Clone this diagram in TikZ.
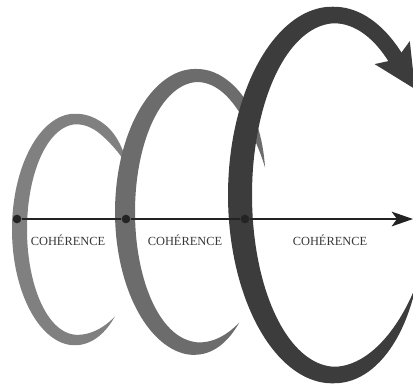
\documentclass[tikz,border=0pt]{standalone}
\usepackage{fontspec}
\setmainfont{Liberation Serif}
\usetikzlibrary{arrows.meta}
\definecolor{turnone}{RGB}{128,128,128}
\definecolor{turntwo}{RGB}{108,108,108}
\definecolor{turnthree}{RGB}{60,60,60}
\definecolor{axisgray}{RGB}{35,35,35}
\definecolor{textgray}{RGB}{55,55,55}

\begin{document}
\begin{tikzpicture}[x=0.75pt, y=-0.75pt,
  declare function={
    rx(\t)=(cos(\t)<0 ? \trl : \trr);
    wd(\t)=(\twt+(\twl-\twt)*max(0,-cos(\t)))*sin(90*min(1,(\t-\tta)/\tka))*sin(90*min(1,(\ttb-\t)/\tkb));
  },
  dot/.style={circle, fill=axisgray, inner sep=0pt, minimum size=6.5pt},
  cohtext/.style={font=\fontsize{9.3}{10}\selectfont, text=textgray},
  axisline/.style={draw=axisgray, line width=1.4pt}]
  \useasboundingbox (0,0) rectangle (413,387);
  \clip (0,0) rectangle (413,387);
  % first turn
  \def\tcx{76}\def\tcy{229.5}\def\trl{56.5}\def\trr{63}\def\try{110.5}
  \def\tta{35}\def\ttb{308}\def\tka{30}\def\tkb{42}\def\twl{15}\def\twt{10.5}
  \fill[turnone] plot[domain=35:308, samples=120] ({\tcx+(rx(\x)+wd(\x)/2)*cos(\x)}, {\tcy-(\try+wd(\x)/2)*sin(\x)})
    -- plot[domain=308:35, samples=120] ({\tcx+(rx(\x)-wd(\x)/2)*cos(\x)}, {\tcy-(\try-wd(\x)/2)*sin(\x)}) -- cycle;
  % second turn
  \def\tcx{197}\def\tcy{212}\def\trl{72}\def\trr{72}\def\try{136.5}
  \def\tta{19}\def\ttb{306}\def\tka{40}\def\tkb{45}\def\twl{20}\def\twt{13}
  \fill[turntwo] plot[domain=19:306, samples=120] ({\tcx+(rx(\x)+wd(\x)/2)*cos(\x)}, {\tcy-(\try+wd(\x)/2)*sin(\x)})
    -- plot[domain=306:19, samples=120] ({\tcx+(rx(\x)-wd(\x)/2)*cos(\x)}, {\tcy-(\try-wd(\x)/2)*sin(\x)}) -- cycle;
  % third turn
  \def\tcx{334}\def\tcy{195}\def\trl{94}\def\trr{95}\def\try{180}
  \def\tta{0}\def\ttb{330}\def\tka{1}\def\tkb{55}\def\twl{24}\def\twt{16.5}
  \fill[turnthree] plot[domain=48:330, samples=120] ({\tcx+(rx(\x)+wd(\x)/2)*cos(\x)}, {\tcy-(\try+wd(\x)/2)*sin(\x)})
    -- plot[domain=330:48, samples=120] ({\tcx+(rx(\x)-wd(\x)/2)*cos(\x)}, {\tcy-(\try-wd(\x)/2)*sin(\x)}) -- cycle;
  \fill[turnthree] (415,89) -- (374.6,64.1) -- (396.5,59.3) -- (409.8,41.1) -- cycle;
  % axis
  \node[dot] (p1) at (17,219) {};
  \node[dot] (p2) at (126,219) {};
  \node[dot] (p3) at (245,219) {};
  \coordinate (axisend) at (413,219);
  \draw[axisline] (p1) -- (p2);
  \draw[axisline] (p2) -- (p3);
  \draw[axisline, -{Stealth[length=16pt, width=11pt, inset=4pt]}] (p3) -- (axisend);
  \node[cohtext] (c1) at (68,240) {COHÉRENCE};
  \node[cohtext] (c2) at (185,240) {COHÉRENCE};
  \node[cohtext] (c3) at (330,240) {COHÉRENCE};
\end{tikzpicture}
\end{document}
